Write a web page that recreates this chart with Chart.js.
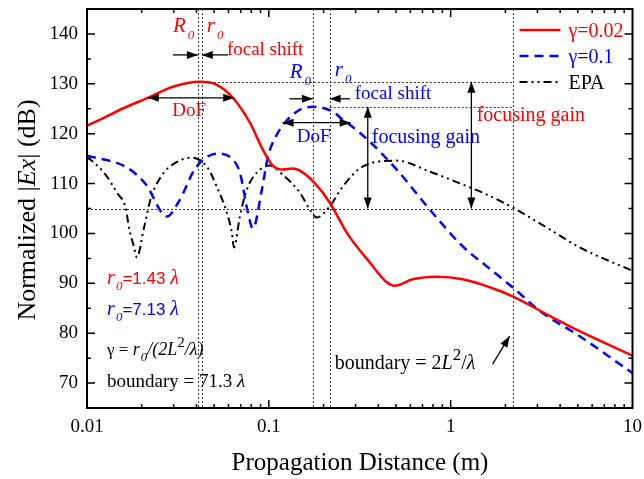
<!DOCTYPE html>
<html>
<head>
<meta charset="utf-8">
<script src="https://cdn.jsdelivr.net/npm/chart.js@4.4.1/dist/chart.umd.min.js"></script>
<style>
  html, body { margin: 0; padding: 0; background: #fff; }
  #plot { display: block; }
</style>
</head>
<body>
<canvas id="plot" width="644" height="479"></canvas>
<script>
// gamma = 0.02 (solid red)
const distRed = [0.01, 0.0118, 0.0152, 0.0216, 0.0297, 0.0418, 0.0518, 0.0634, 0.0787, 0.0927, 0.1052, 0.119, 0.1355, 0.154, 0.184, 0.216, 0.272, 0.359, 0.445, 0.492, 0.618, 0.838, 1.165, 1.64, 2.19, 3.37, 5.12, 10];
const gainRed = [121.6, 122.8, 124.8, 127.2, 129.4, 130.4, 129.8, 127.2, 122.2, 116.8, 113.6, 112.8, 113.0, 112.2, 109.6, 106.2, 99.8, 94.2, 90.2, 89.5, 90.8, 91.3, 90.8, 89.2, 87.4, 83.8, 80.4, 75.5];

// gamma = 0.1 (dashed blue)
const distBlue = [0.01, 0.0166, 0.0211, 0.0275, 0.032, 0.0397, 0.052, 0.0634, 0.0693, 0.0767, 0.0817, 0.0916, 0.0989, 0.1107, 0.1225, 0.148, 0.1745, 0.225, 0.255, 0.279, 0.359, 0.505, 0.767, 1.165, 1.58, 2.19, 3.16, 5.12, 10];
const gainBlue = [115.6, 113.2, 109.8, 103.4, 106.4, 113.2, 116.0, 114.8, 112.2, 104.2, 101.0, 108.8, 115.4, 119.8, 122.2, 124.8, 125.4, 124.4, 122.8, 121.8, 118.4, 112.8, 104.8, 97.4, 93.4, 89.2, 84.2, 79.4, 72.0];

// EPA (dash-dot-dot black)
const distEpa = [0.01, 0.0124, 0.0146, 0.0164, 0.017, 0.0181, 0.0188, 0.0206, 0.0225, 0.0265, 0.0308, 0.0372, 0.0456, 0.0517, 0.0587, 0.0626, 0.0643, 0.0693, 0.0757, 0.0859, 0.1012, 0.119, 0.148, 0.168, 0.1836, 0.216, 0.255, 0.328, 0.505, 0.767, 1.165, 1.58, 2.19, 3.37, 5.12, 10];
const gainEpa = [115.4, 112.2, 108.2, 104.8, 101.2, 97.4, 95.2, 101.2, 107.2, 112.2, 114.2, 115.2, 113.4, 109.4, 104.2, 100.2, 97.2, 103.4, 108.8, 112.2, 113.6, 111.8, 108.2, 104.8, 103.2, 105.4, 109.4, 113.4, 114.6, 112.4, 109.8, 107.8, 105.2, 101.2, 97.2, 92.5];

const xTicks = [0.01, 0.1, 1, 10];
const yTicks = [70, 80, 90, 100, 110, 120, 130, 140];

// design focus R0, real focus r0, far-field boundary
const focusRed = [0.0407, 0.0428];
const focusBlue = [0.1746, 0.216];
const boundary = 2.19;
const peakRed = 130.4;
const peakBlue = 125.4;
const levelEpa = 105;

const RED = '#ff0000';
const BLUE = '#0000ff';
const SERIF = '"Liberation Serif", "Times New Roman", serif';
const SANS = '"Liberation Sans", Arial, sans-serif';
const font = (size, style) => `${style || 'normal'} ${size}px ${SERIF}`;

function pts(xs, ys) {
  return xs.map((x, i) => ({ x: x, y: ys[i] }));
}

// text made of runs: [text, font, dy, extra gap]
function runs(ctx, x, y, color, parts) {
  ctx.save();
  ctx.fillStyle = color;
  ctx.textBaseline = 'alphabetic';
  ctx.textAlign = 'left';
  let cx = x;
  parts.forEach(p => {
    ctx.font = p[1];
    ctx.fillText(p[0], cx, y + (p[2] || 0));
    cx += ctx.measureText(p[0]).width + (p[3] || 0);
  });
  ctx.restore();
}

function head(ctx, x1, y1, x2, y2) {
  const a = Math.atan2(y2 - y1, x2 - x1);
  const len = 11, w = 4;
  ctx.beginPath();
  ctx.moveTo(x2, y2);
  ctx.lineTo(x2 - len * Math.cos(a) + w * Math.sin(a), y2 - len * Math.sin(a) - w * Math.cos(a));
  ctx.lineTo(x2 - len * Math.cos(a) - w * Math.sin(a), y2 - len * Math.sin(a) + w * Math.cos(a));
  ctx.closePath();
  ctx.fill();
}

function arrow(ctx, x1, y1, x2, y2, both) {
  ctx.save();
  ctx.strokeStyle = '#000';
  ctx.fillStyle = '#000';
  ctx.lineWidth = 1.3;
  ctx.setLineDash([]);
  ctx.beginPath();
  ctx.moveTo(x1, y1);
  ctx.lineTo(x2, y2);
  ctx.stroke();
  head(ctx, x1, y1, x2, y2);
  if (both) head(ctx, x2, y2, x1, y1);
  ctx.restore();
}

const guides = {
  id: 'guides',
  beforeDatasetsDraw(chart) {
    const { ctx, chartArea: a, scales: { x, y } } = chart;
    ctx.save();
    ctx.strokeStyle = '#333';
    ctx.lineWidth = 1;
    ctx.setLineDash([2, 2]);
    [...focusRed, ...focusBlue, boundary].forEach(v => {
      const px = Math.round(x.getPixelForValue(v)) + 0.5;
      ctx.beginPath();
      ctx.moveTo(px, a.top);
      ctx.lineTo(px, a.bottom);
      ctx.stroke();
    });
    const hline = (v, from, to) => {
      const py = Math.round(y.getPixelForValue(v)) + 0.5;
      ctx.beginPath();
      ctx.moveTo(x.getPixelForValue(from), py);
      ctx.lineTo(x.getPixelForValue(to), py);
      ctx.stroke();
    };
    hline(peakRed, focusRed[1], boundary);
    hline(peakBlue, focusBlue[1], boundary);
    hline(levelEpa, 0.01, boundary);
    ctx.restore();
  }
};

const frame = {
  id: 'frame',
  afterDraw(chart) {
    const { ctx, chartArea: a, scales: { x, y } } = chart;
    const X = v => x.getPixelForValue(v);
    const Y = v => y.getPixelForValue(v);

    // box and inward ticks
    ctx.save();
    ctx.strokeStyle = '#000';
    ctx.lineWidth = 1.5;
    ctx.beginPath();
    for (let d = 0.01; d < 10; d *= 10) {
      for (let m = 1; m <= 9; m++) {
        const px = X(d * m);
        const len = m === 1 ? 8 : 4;
        ctx.moveTo(px, a.bottom); ctx.lineTo(px, a.bottom - len);
        ctx.moveTo(px, a.top); ctx.lineTo(px, a.top + len);
      }
    }
    for (let v = 65; v <= 145; v += 5) {
      const py = Y(v);
      const len = v % 10 === 0 ? 8 : 4;
      ctx.moveTo(a.left, py); ctx.lineTo(a.left + len, py);
      ctx.moveTo(a.right, py); ctx.lineTo(a.right - len, py);
    }
    ctx.stroke();
    ctx.lineWidth = 2;
    ctx.strokeRect(a.left, a.top, a.right - a.left, a.bottom - a.top);
    ctx.restore();

    // axis titles
    ctx.save();
    ctx.fillStyle = '#000';
    ctx.font = font(25);
    ctx.textAlign = 'center';
    ctx.fillText('Propagation Distance (m)', 360, 470);
    ctx.restore();
    const parts = [['Normalized |', font(26)], ['Ex', font(26, 'italic')], ['| (dB)', font(26)]];
    ctx.save();
    let w = 0;
    parts.forEach(p => { ctx.font = p[1]; w += ctx.measureText(p[0]).width; });
    ctx.translate(35, 210);
    ctx.rotate(-Math.PI / 2);
    runs(ctx, -w / 2, 0, '#000', parts);
    ctx.restore();

    // legend
    const legend = [
      ['\u03b3=0.02', RED, [], 2.5],
      ['\u03b3=0.1', BLUE, [9, 6], 2.5],
      ['EPA', '#000', [8, 4, 2, 4, 2, 4], 2]
    ];
    legend.forEach((l, i) => {
      const ly = a.top + 21 + i * 26;
      ctx.save();
      ctx.strokeStyle = l[1];
      ctx.lineWidth = l[3];
      ctx.setLineDash(l[2]);
      ctx.beginPath();
      ctx.moveTo(a.right - 113, ly);
      ctx.lineTo(a.right - 72, ly);
      ctx.stroke();
      ctx.restore();
      runs(ctx, a.right - 64, ly + 7, l[1], [[l[0], font(20)]]);
    });

    // focal shift markers, red
    const fy = Y(135.8);
    arrow(ctx, X(0.0297), fy, X(focusRed[0]), fy);
    arrow(ctx, X(0.0596), fy, X(focusRed[1]), fy);
    runs(ctx, X(0.0297), Y(140.4), RED, [['R', font(21, 'italic'), 0, 2], ['0', font(13, 'italic'), 7]]);
    runs(ctx, X(0.0456), Y(140.4), RED, [['r', font(21, 'italic'), 0, 2], ['0', font(13, 'italic'), 7]]);
    runs(ctx, X(0.0588), Y(135.8), RED, [['focal shift', font(19)]]);

    // DoF, red
    arrow(ctx, X(0.0216), Y(127.2), X(0.0645), Y(127.2), true);
    runs(ctx, X(0.0294), Y(123.6), RED, [['DoF', font(19)]]);

    // focal shift markers, blue
    const by = Y(127);
    arrow(ctx, X(0.1298), by, X(focusBlue[0]), by);
    arrow(ctx, X(0.2795), by, X(focusBlue[1]), by);
    runs(ctx, X(0.1304), Y(131.2), BLUE, [['R', font(21, 'italic'), 0, 2], ['0', font(13, 'italic'), 7]]);
    runs(ctx, X(0.2305), Y(131.6), BLUE, [['r', font(21, 'italic'), 0, 2], ['0', font(13, 'italic'), 7]]);
    runs(ctx, X(0.297), Y(127), BLUE, [['focal shift', font(19)]]);

    // DoF, blue
    arrow(ctx, X(0.119), Y(122.2), X(0.282), Y(122.2), true);
    runs(ctx, X(0.1426), Y(118.4), BLUE, [['DoF', font(19)]]);

    // focusing gain
    arrow(ctx, X(0.35), Y(peakBlue), X(0.35), Y(levelEpa), true);
    runs(ctx, X(0.368), Y(118.2), BLUE, [['focusing gain', font(20)]]);
    arrow(ctx, X(1.30), Y(peakRed), X(1.30), Y(levelEpa), true);
    runs(ctx, X(1.39), Y(122.6), RED, [['focusing gain', font(20)]]);

    // notes, lower left
    const nx = X(0.0129);
    runs(ctx, nx, Y(89.8), RED, [['r', font(20, 'italic'), 0, 1], ['0', font(13, 'italic'), 6], ['=1.43 ', `17px ${SANS}`], ['\u03bb', font(20, 'italic')]]);
    runs(ctx, nx, Y(83.6), BLUE, [['r', font(20, 'italic'), 0, 1], ['0', font(13, 'italic'), 6], ['=7.13 ', `17px ${SANS}`], ['\u03bb', font(20, 'italic')]]);
    runs(ctx, nx, Y(75.6), '#000', [['\u03b3 = ', font(17)], ['r', font(18, 'italic'), 0, 1], ['0', font(13, 'italic'), 6], ['/(2', font(18, 'italic')], ['L', font(18, 'italic')], ['2', font(15), -8], ['/\u03bb)', font(18, 'italic')]]);
    runs(ctx, nx, Y(69.2), '#000', [['boundary = 71.3 ', font(19)], ['\u03bb', font(19, 'italic')]]);

    // far-field boundary note
    runs(ctx, X(0.2305), Y(72.8), '#000', [['boundary = 2', font(20)], ['L', font(20, 'italic')], ['2', font(17), -9], ['/', font(20)], ['\u03bb', font(20, 'italic')]]);
    arrow(ctx, X(1.70), Y(73.8), X(2.11), Y(79.4));
  }
};

// axes keep invisible grid lines so the tick length spaces the labels
const hiddenGrid = { display: true, color: 'transparent', drawTicks: true, tickLength: 9 };
const tickFont = { family: SERIF, size: 19, lineHeight: 0.8 };

new Chart(document.getElementById('plot'), {
  type: 'line',
  data: {
    datasets: [
      {
        label: '\u03b3=0.02',
        data: pts(distRed, gainRed),
        borderColor: RED,
        borderWidth: 2.5,
        pointRadius: 0,
        cubicInterpolationMode: 'monotone'
      },
      {
        label: '\u03b3=0.1',
        data: pts(distBlue, gainBlue),
        borderColor: BLUE,
        borderWidth: 2.5,
        borderDash: [9, 6],
        pointRadius: 0,
        cubicInterpolationMode: 'monotone'
      },
      {
        label: 'EPA',
        data: pts(distEpa, gainEpa),
        borderColor: '#000',
        borderWidth: 2,
        borderDash: [8, 4, 2, 4, 2, 4],
        pointRadius: 0,
        cubicInterpolationMode: 'monotone'
      }
    ]
  },
  options: {
    responsive: false,
    animation: false,
    devicePixelRatio: 1,
    layout: { padding: { top: 9, right: 11, left: 0, bottom: 0 } },
    plugins: { legend: { display: false }, tooltip: { enabled: false } },
    scales: {
      x: {
        type: 'logarithmic',
        min: 0.01,
        max: 10,
        grid: hiddenGrid,
        border: { display: false },
        afterBuildTicks: s => { s.ticks = xTicks.map(v => ({ value: v })); },
        afterFit: s => { s.height = 71; },
        ticks: {
          color: '#000',
          font: tickFont,
          padding: 2,
          maxRotation: 0,
          autoSkip: false,
          callback: v => String(v)
        }
      },
      y: {
        min: 65,
        max: 145,
        grid: hiddenGrid,
        border: { display: false },
        afterBuildTicks: s => { s.ticks = yTicks.map(v => ({ value: v })); },
        afterFit: s => { s.width = 87; },
        ticks: {
          color: '#000',
          font: tickFont,
          padding: 0
        }
      }
    }
  },
  plugins: [guides, frame]
});
</script>
</body>
</html>
